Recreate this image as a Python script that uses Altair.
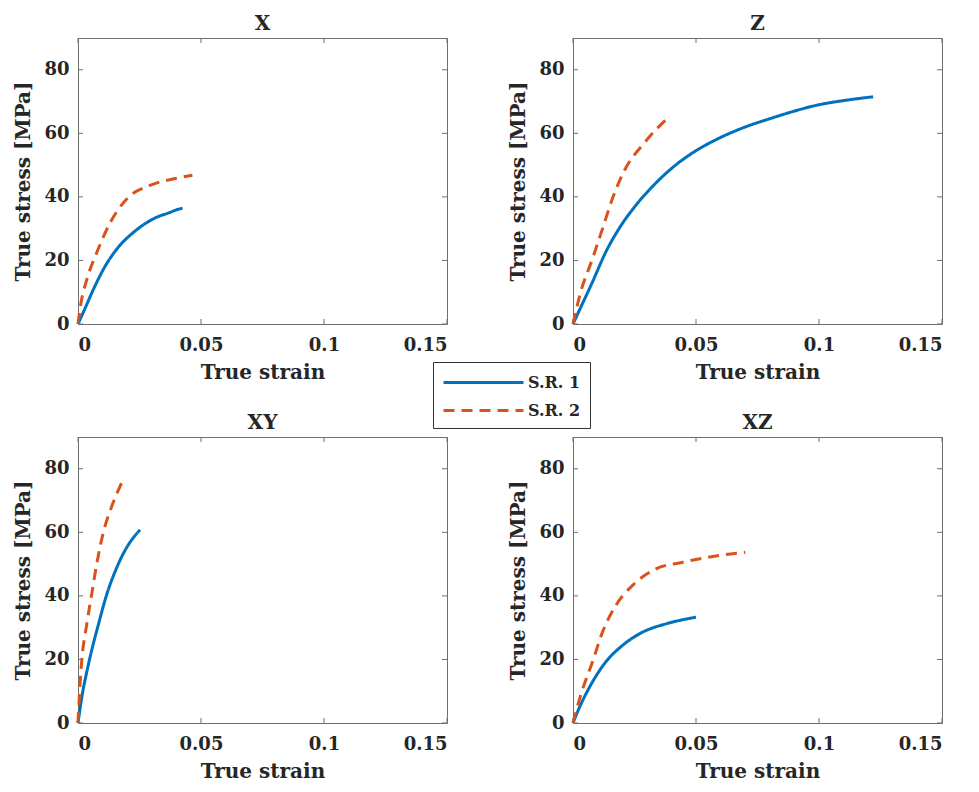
import altair as alt
import pandas as pd

# ---- data ----
series_names = ["S.R. 1", "S.R. 2"]
panel_names = ["X", "Z", "XY", "XZ"]

x_X_sr1 = [0, 0.0024, 0.0065, 0.0106, 0.016, 0.0228, 0.0309, 0.037, 0.0417, 0.0425]
y_X_sr1 = [0, 4.1, 11.3, 17.6, 23.8, 29, 33.2, 35, 36.3, 36.4]
x_X_sr2 = [0, 0.0011, 0.0038, 0.0078, 0.0133, 0.02, 0.0295, 0.039, 0.0465]
y_X_sr2 = [0, 6.1, 14.5, 22.8, 32.2, 39.5, 43.7, 45.7, 46.8]

x_Z_sr1 = [0, 0.0024, 0.0079, 0.0133, 0.0187, 0.0255, 0.0336, 0.0417, 0.0485,
           0.06, 0.07, 0.08, 0.09, 0.1, 0.11, 0.122]
y_Z_sr1 = [0, 4, 13.2, 22.6, 30, 37.3, 44.3, 50, 53.8,
           58.7, 62, 64.6, 67, 69, 70.3, 71.5]
x_Z_sr2 = [0, 0.0031, 0.0079, 0.012, 0.016, 0.0207, 0.029, 0.0387]
y_Z_sr2 = [0, 10, 20.5, 30, 39.4, 48, 57, 65]

x_XY_sr1 = [0, 0.0015, 0.0042, 0.0086, 0.0117, 0.015, 0.0191, 0.0252]
y_XY_sr1 = [0, 7.9, 18.3, 31.9, 40.5, 47.5, 54.3, 60.8]
x_XY_sr2 = [0, 0.0008, 0.0015, 0.0035, 0.0056, 0.0076, 0.0103, 0.0133, 0.018]
y_XY_sr2 = [0, 12, 19.4, 30.8, 40.7, 50, 60, 67.3, 76]

x_XZ_sr1 = [0, 0.0024, 0.0079, 0.0133, 0.0201, 0.0283, 0.0378, 0.05]
y_XZ_sr1 = [0, 4.5, 12.9, 19.2, 24.4, 28.6, 31.2, 33.3]
x_XZ_sr2 = [0, 0.0031, 0.0079, 0.012, 0.0174, 0.0242, 0.0337, 0.0446, 0.0575, 0.07]
y_XZ_sr2 = [0, 8.7, 19.2, 28.6, 37, 43.3, 48.5, 50.6, 52.5, 53.7]

ticks_x = [0, 0.05, 0.1, 0.15]
ticks_y = [0, 20, 40, 60, 80]

curves = {
    "X": [(x_X_sr1, y_X_sr1), (x_X_sr2, y_X_sr2)],
    "Z": [(x_Z_sr1, y_Z_sr1), (x_Z_sr2, y_Z_sr2)],
    "XY": [(x_XY_sr1, y_XY_sr1), (x_XY_sr2, y_XY_sr2)],
    "XZ": [(x_XZ_sr1, y_XZ_sr1), (x_XZ_sr2, y_XZ_sr2)],
}

FONT = "DejaVu Serif"
W, H = 369, 286
TXT = "#262626"
BOX = "#6e6e6e"
TICK = 5

xscale = alt.Scale(domain=[0, 0.15], nice=False, zero=False)
yscale = alt.Scale(domain=[0, 90], nice=False, zero=False)

xaxis = alt.Axis(values=ticks_x, title="True strain",
                 labelExpr="datum.value == 0 ? '0' : format(datum.value, '.2~f')",
                 ticks=False, domain=False, grid=False,
                 labelPadding=12, titlePadding=8)
yaxis = alt.Axis(values=ticks_y, format="d", title="True stress [MPa]",
                 ticks=False, domain=False, grid=False,
                 labelPadding=9, titlePadding=10)

tx_df = pd.DataFrame({"strain": ticks_x})
ty_df = pd.DataFrame({"stress": ticks_y})

LEG = alt.Legend(title=None, orient="none", legendX=355, legendY=324)


def panel(name):
    rows = []
    for sname, (xs, ys) in zip(series_names, curves[name]):
        for a, b in zip(xs, ys):
            rows.append({"strain": a, "stress": b, "series": sname})
    df = pd.DataFrame(rows)

    X = alt.X("strain:Q", scale=xscale, axis=xaxis)
    Y = alt.Y("stress:Q", scale=yscale, axis=yaxis)

    lines = alt.Chart(df).mark_line(strokeWidth=3, interpolate="monotone").encode(
        x=X, y=Y,
        color=alt.Color("series:N",
                        scale=alt.Scale(domain=series_names, range=["#0072BD", "#D95319"]),
                        legend=LEG),
        strokeDash=alt.StrokeDash("series:N",
                                  scale=alt.Scale(domain=series_names, range=[[1, 0], [11, 7]]),
                                  legend=LEG),
    )

    xt_bot = alt.Chart(tx_df).mark_rule(color=BOX, strokeWidth=1).encode(
        x=X, y=alt.value(H), y2=alt.value(H - TICK))
    xt_top = alt.Chart(tx_df).mark_rule(color=BOX, strokeWidth=1).encode(
        x=X, y=alt.value(0), y2=alt.value(TICK))
    yt_left = alt.Chart(ty_df).mark_rule(color=BOX, strokeWidth=1).encode(
        y=Y, x=alt.value(0), x2=alt.value(TICK))
    yt_right = alt.Chart(ty_df).mark_rule(color=BOX, strokeWidth=1).encode(
        y=Y, x=alt.value(W - TICK), x2=alt.value(W))

    return alt.layer(lines, xt_bot, xt_top, yt_left, yt_right).properties(
        width=W, height=H,
        title=alt.TitleParams(name, fontSize=20, font=FONT, fontWeight="bold",
                              color=TXT, offset=4),
    )


top = alt.hconcat(panel("X"), panel("Z"), spacing=60)
bottom = alt.hconcat(panel("XY"), panel("XZ"), spacing=60)
chart = alt.vconcat(top, bottom, spacing=29).configure_view(
    stroke=BOX, strokeWidth=1
).configure_axis(
    labelFont=FONT, labelFontSize=18, labelFontWeight="bold", labelColor=TXT,
    titleFont=FONT, titleFontSize=20, titleFontWeight="bold", titleColor=TXT,
).configure_legend(
    labelFont=FONT, labelFontSize=16, labelFontWeight="bold", labelColor=TXT,
    symbolType="M-4,0L4,0", symbolSize=400, symbolStrokeWidth=3,
    symbolOffset=30, labelOffset=33,
    strokeColor="#333333", fillColor="white", padding=9, rowPadding=8,
    cornerRadius=0,
)

chart.save("out.html", embed_options={"renderer": "svg", "actions": False})
